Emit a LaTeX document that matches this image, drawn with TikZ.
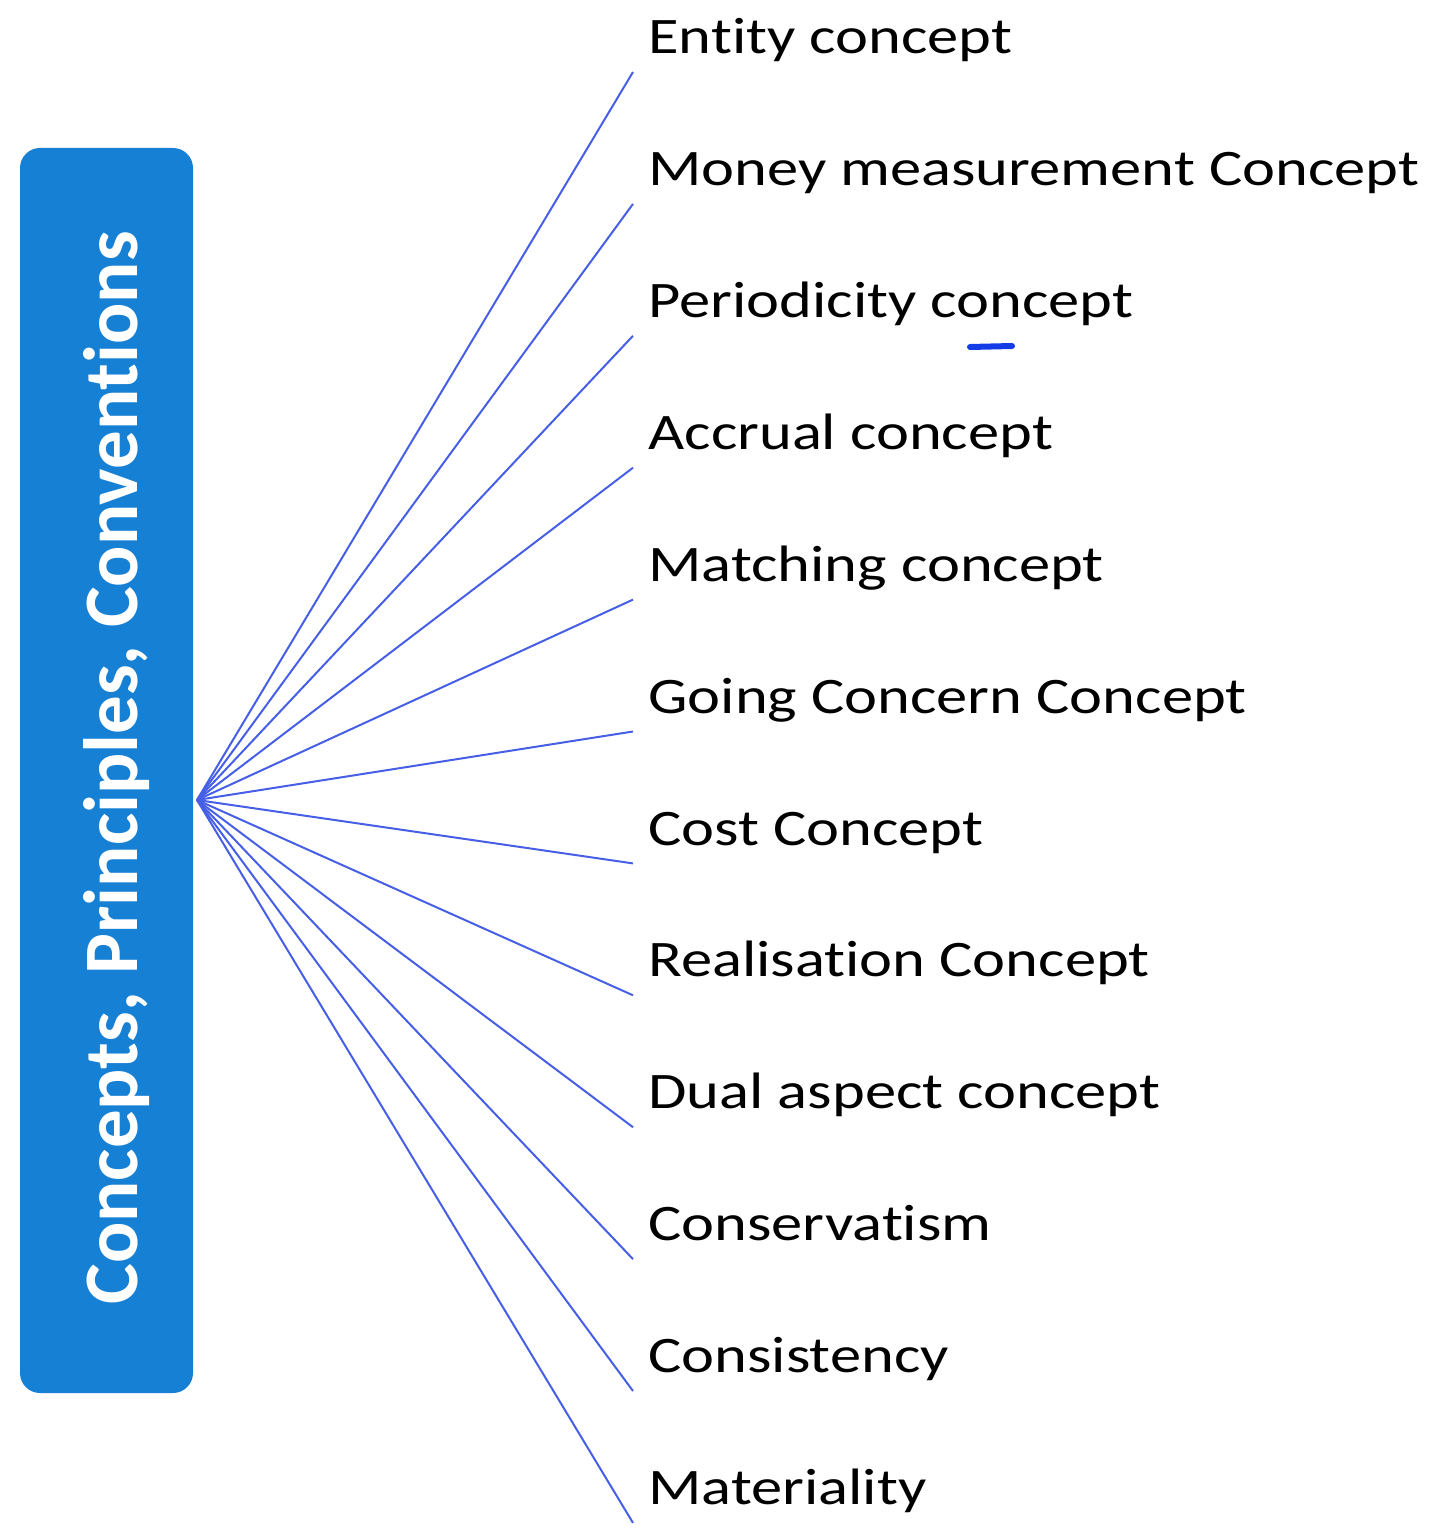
\documentclass[tikz,border=0pt]{standalone}
\usepackage{fontspec}
\setmainfont{Carlito}[Ligatures=NoCommon]
\newfontfamily\leaffont{Carlito}[FakeStretch=1.22, Ligatures=NoCommon]
\usetikzlibrary{positioning}
\definecolor{boxblue}{RGB}{22,128,212}
\definecolor{spokeblue}{RGB}{70,95,230}
\definecolor{penblue}{RGB}{20,60,230}

\begin{document}
\begin{tikzpicture}[x=0.5pt, y=-0.5pt, node distance=65.95pt,
  title/.style={rectangle, fill=boxblue, rounded corners=10pt, minimum width=86.5pt, minimum height=622.5pt},
  leaf/.style={anchor=south west, inner xsep=7.5pt, inner ysep=3pt, text height=18pt, text depth=6pt, font=\leaffont\fontsize{25.6}{30}\selectfont},
  spoke/.style={draw=spokeblue, line width=1pt}]
  \useasboundingbox (0,0) rectangle (1452,1540);
  \node[title] (box) at (106.5,770.5) {};
  \node[rotate=90, text=white, font=\fontsize{38.5}{44}\selectfont\bfseries] (boxtext) at (117,768) {Concepts, Principles, Conventions};
  \node[coordinate] (hub) at (197,800) {};

  \node[leaf] (c1) at (633,72) {Entity concept};
  \foreach \i/\p/\t in {2/1/Money measurement Concept, 3/2/Periodicity concept, 4/3/Accrual concept,
      5/4/Matching concept, 6/5/Going Concern Concept, 7/6/Cost Concept, 8/7/Realisation Concept,
      9/8/Dual aspect concept, 10/9/Conservatism, 11/10/Consistency, 12/11/Materiality}
    \node[leaf, below=of c\p.west, anchor=west] (c\i) {\t};

  \foreach \i in {1,...,12}
    \draw[spoke] (hub) -- (c\i.south west);

  \draw[penblue, line width=3pt, line cap=round] (970,347) -- (1012,346);
\end{tikzpicture}
\end{document}
